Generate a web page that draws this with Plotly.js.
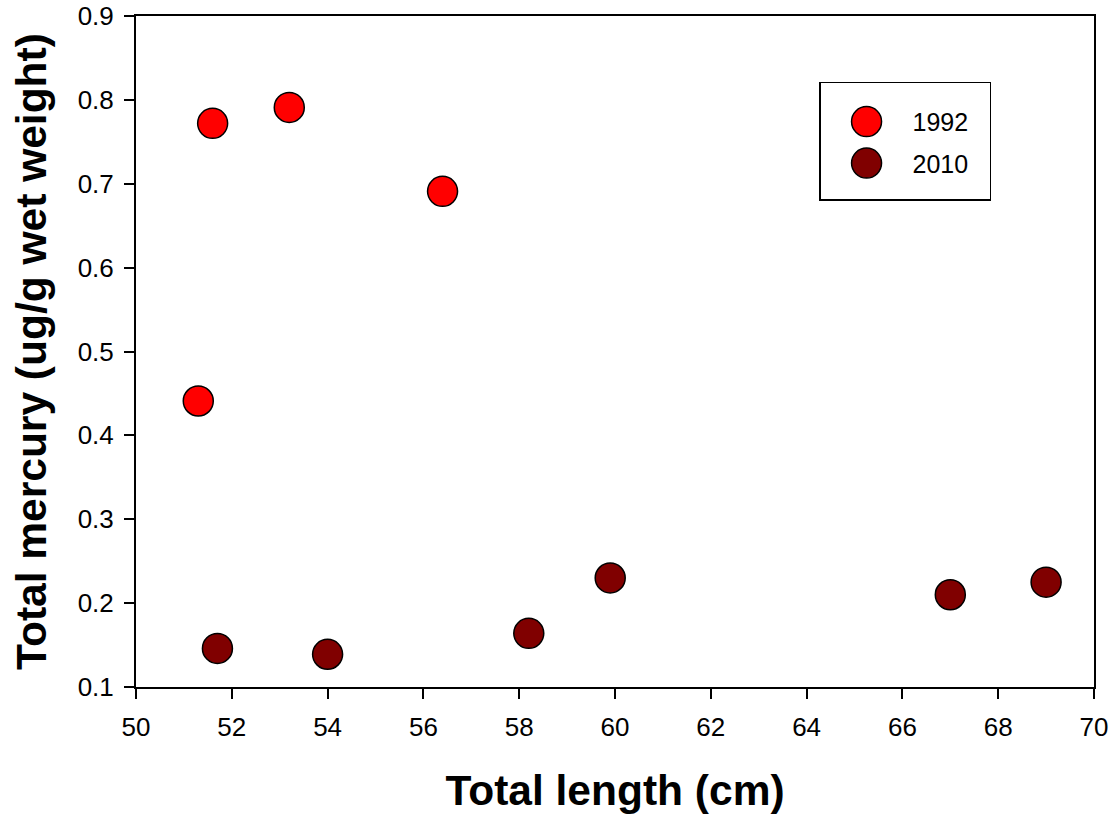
<!DOCTYPE html>
<html>
<head>
<meta charset="utf-8">
<script src="https://cdn.plot.ly/plotly-3.0.1.min.js"></script>
<style>
  html, body { margin: 0; padding: 0; background: #fff; }
  #chart { width: 1115px; height: 816px; }
</style>
</head>
<body>
<div id="chart"></div>
<script>
// Data
const len1992 = [51.3, 51.6, 53.2, 56.4];
const hg1992  = [0.441, 0.772, 0.791, 0.691];
const len2010 = [51.7, 54.0, 58.2, 59.9, 67.0, 69.0];
const hg2010  = [0.146, 0.139, 0.164, 0.230, 0.210, 0.225];
const seriesNames = ['1992', '2010'];
const xTitle = 'Total length (cm)';
const yTitle = 'Total mercury (ug/g wet weight)';

const FONT = 'Liberation Sans, Arial, sans-serif';
const MARKER_SIZE = 30;

const traces = [
  {
    x: len1992, y: hg1992, name: seriesNames[0], type: 'scatter', mode: 'markers',
    legendgroup: 'a',
    marker: { size: MARKER_SIZE, color: '#ff0000', line: { color: '#000000', width: 1.5 } }
  },
  {
    x: len2010, y: hg2010, name: seriesNames[1], type: 'scatter', mode: 'markers',
    legendgroup: 'b',
    marker: { size: MARKER_SIZE, color: '#800000', line: { color: '#000000', width: 1.5 } }
  }
];

const axisCommon = {
  showline: true, linecolor: '#000', linewidth: 2, mirror: true,
  ticks: 'outside', ticklen: 10, tickwidth: 2, tickcolor: '#000',
  showgrid: false, zeroline: false,
  tickfont: { family: FONT, size: 26, color: '#000' }
};

const layout = {
  width: 1115, height: 816,
  margin: { l: 136, r: 21, t: 16, b: 129 },
  paper_bgcolor: '#fff', plot_bgcolor: '#fff',
  font: { family: FONT, color: '#000' },
  xaxis: Object.assign({}, axisCommon, {
    range: [50, 70], dtick: 2, tick0: 50, ticklabelstandoff: 6,
    title: { text: xTitle, font: { family: FONT, size: 42.5, weight: 'bold', color: '#000' }, standoff: 34 }
  }),
  yaxis: Object.assign({}, axisCommon, {
    range: [0.1, 0.9], dtick: 0.1, tick0: 0.1, tickformat: '.1f', ticklabelstandoff: 5,
    title: { text: yTitle, font: { family: FONT, size: 42.5, weight: 'bold', color: '#000' }, standoff: 18 }
  }),
  showlegend: true,
  legend: {
    x: 0.713, y: 0.902, xanchor: 'left', yanchor: 'top',
    bgcolor: '#fff', bordercolor: '#000', borderwidth: 1.5,
    font: { family: FONT, size: 25, color: '#000' },
    title: { text: '\u00a0', font: { family: FONT, size: 12 } },
    itemwidth: 82, traceorder: 'grouped', tracegroupgap: 6
  }
};

Plotly.newPlot('chart', traces, layout, { displayModeBar: false, staticPlot: true }).then(function (gd) {
  // Plotly caps legend symbols at 16px; redraw them at the trace's marker size
  const r = MARKER_SIZE / 2;
  const circle = 'M' + r + ',0A' + r + ',' + r + ' 0 1,1 0,-' + r + 'A' + r + ',' + r + ' 0 0,1 ' + r + ',0Z';
  gd.querySelectorAll('.legend .legendpoints path.scatterpts').forEach(function (p) {
    p.setAttribute('d', circle);
  });
  // widen / heighten the legend frame to the reference's padding
  const bg = gd.querySelector('.legend rect.bg');
  if (bg) {
    bg.setAttribute('width', parseFloat(bg.getAttribute('width')) + 16);
    bg.setAttribute('height', parseFloat(bg.getAttribute('height')) + 13);
  }
});
</script>
</body>
</html>
